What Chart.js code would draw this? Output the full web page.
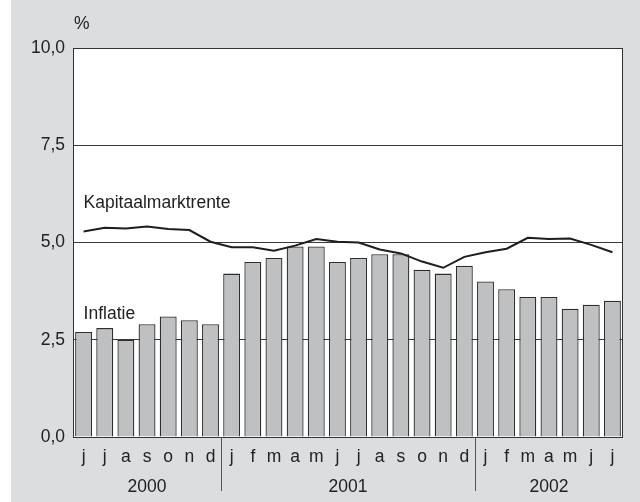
<!DOCTYPE html>
<html>
<head>
<meta charset="utf-8">
<script src="https://cdn.jsdelivr.net/npm/chart.js@4"></script>
<style>
  html, body { margin: 0; padding: 0; background: #fff; }
  canvas { display: block; }
</style>
</head>
<body>
<canvas id="chart" width="640" height="502"></canvas>
<script>
// maanden jun 2000 t/m jul 2002
const months = ["j","j","a","s","o","n","d","j","f","m","a","m","j","j","a","s","o","n","d","j","f","m","a","m","j","j"];
const years = ["2000", "2001", "2002"];
const monthsPerYear = [7, 12, 7];
const inflatie = [2.7, 2.8, 2.5, 2.9, 3.1, 3.0, 2.9, 4.2, 4.5, 4.6, 4.9, 4.9, 4.5, 4.6, 4.7, 4.7, 4.3, 4.2, 4.4, 4.0, 3.8, 3.6, 3.6, 3.3, 3.4, 3.5];
const kapitaalmarktrente = [5.28, 5.38, 5.36, 5.41, 5.35, 5.32, 5.02, 4.88, 4.88, 4.79, 4.92, 5.09, 5.02, 5.0, 4.82, 4.72, 4.51, 4.35, 4.63, 4.75, 4.84, 5.12, 5.09, 5.10, 4.94, 4.75];
const yTicks = [0, 2.5, 5, 7.5, 10];

const FONT = "Liberation Sans, Arial, sans-serif";
const FSIZE = 17.5;
const TEXT = "#222";

const decor = {
  id: "decor",
  beforeDraw(chart) {
    const { ctx, chartArea: a } = chart;
    ctx.save();
    ctx.fillStyle = "#fff";
    ctx.fillRect(0, 0, chart.width, chart.height);
    ctx.fillStyle = "#dcdddf";
    ctx.fillRect(11, 0, chart.width - 11, chart.height);
    ctx.fillStyle = "#fff";
    ctx.fillRect(a.left, a.top, a.right - a.left, a.bottom - a.top);
    ctx.restore();
  },
  afterDatasetsDraw(chart) {
    const { ctx, chartArea: a, scales } = chart;
    const x = scales.x, y = scales.y;
    ctx.save();
    // kader
    ctx.strokeStyle = "#333";
    ctx.lineWidth = 1;
    ctx.strokeRect(a.left + 0.5, a.top + 0.5, a.right - a.left - 1, a.bottom - a.top);

    // jaarscheidingen en jaartallen
    ctx.strokeStyle = "#555";
    ctx.fillStyle = TEXT;
    ctx.font = FSIZE + "px " + FONT;
    ctx.textAlign = "center";
    ctx.textBaseline = "alphabetic";
    const half = (x.getPixelForValue(1) - x.getPixelForValue(0)) / 2;
    let start = 0;
    years.forEach((yr, k) => {
      const end = start + monthsPerYear[k] - 1;
      const x0 = x.getPixelForValue(start) - half;
      const x1 = x.getPixelForValue(end) + half;
      ctx.fillText(yr, (x0 + x1) / 2, 492);
      if (k < years.length - 1) {
        const sx = Math.round(x1) + 0.5;
        ctx.beginPath();
        ctx.moveTo(sx, a.bottom);
        ctx.lineTo(sx, 491);
        ctx.stroke();
      }
      start = end + 1;
    });

    // labels
    ctx.textAlign = "left";
    const lx = x.getPixelForValue(0);
    ctx.fillText("Kapitaalmarktrente", lx, y.getPixelForValue(5.88));
    ctx.fillText("Inflatie", lx, y.getPixelForValue(3.03));
    ctx.fillText("%", 74, 29);
    ctx.restore();
  }
};

new Chart(document.getElementById("chart"), {
  type: "bar",
  data: {
    labels: months,
    datasets: [
      {
        type: "line",
        label: "Kapitaalmarktrente",
        data: kapitaalmarktrente,
        borderColor: "#1e1e1e",
        borderWidth: 2,
        pointRadius: 0,
        tension: 0,
        order: 1
      },
      {
        label: "Inflatie",
        data: inflatie,
        backgroundColor: "#bfc0c2",
        borderColor: "#2e2e2e",
        borderWidth: 1.3,
        categoryPercentage: 1,
        barPercentage: 0.8,
        order: 2
      }
    ]
  },
  options: {
    responsive: false,
    animation: false,
    devicePixelRatio: 1,
    layout: { padding: { top: 48, right: 17, left: 0, bottom: 0 } },
    plugins: { legend: { display: false }, tooltip: { enabled: false } },
    scales: {
      x: {
        grid: { display: false, drawTicks: false },
        border: { display: false },
        ticks: { color: TEXT, font: { family: FONT, size: FSIZE }, padding: 10, maxRotation: 0, autoSkip: false },
        afterFit(s) { s.height = 65; }
      },
      y: {
        min: 0,
        max: 10,
        afterBuildTicks(s) { s.ticks = yTicks.map(v => ({ value: v })); },
        grid: { color: "#3a3a3a", lineWidth: 1, drawTicks: false },
        border: { display: false },
        ticks: {
          color: TEXT,
          font: { family: FONT, size: FSIZE },
          padding: 8,
          callback: v => v.toFixed(1).replace(".", ",")
        },
        afterFit(s) { s.width = 73; }
      }
    }
  },
  plugins: [decor]
});
</script>
</body>
</html>
